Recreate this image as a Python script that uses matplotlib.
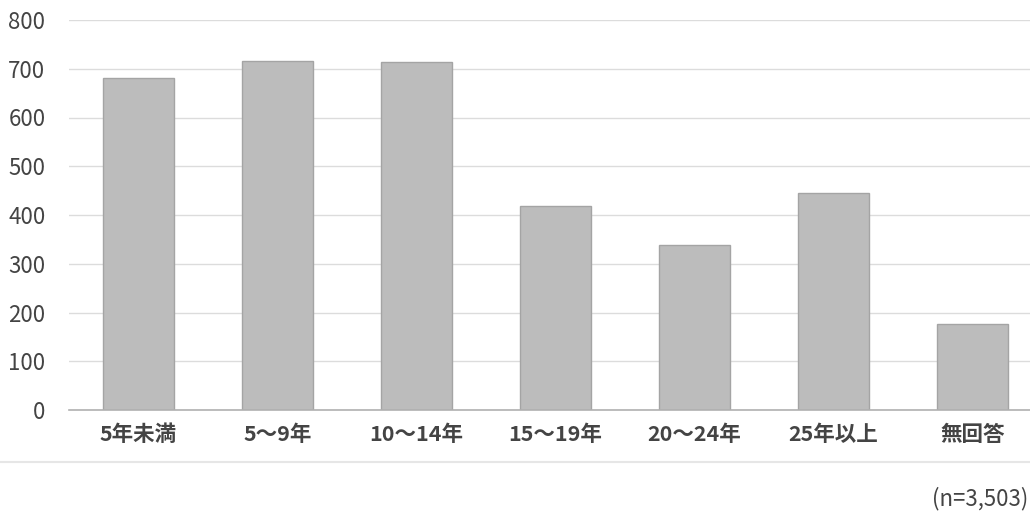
import matplotlib
matplotlib.use("Agg")
import matplotlib.pyplot as plt
from matplotlib.lines import Line2D

plt.rcParams['font.family'] = ['Noto Sans CJK JP', 'DejaVu Sans']

categories = ["5年未満", "5～9年", "10～14年", "15～19年", "20～24年", "25年以上", "無回答"]
values = [682, 716, 713, 418, 338, 446, 176]
yticks = [0, 100, 200, 300, 400, 500, 600, 700, 800]
note = "(n=3,503)"

W, H = 1030, 521
fig = plt.figure(figsize=(W / 100, H / 100), dpi=100)
fig.patch.set_facecolor("white")

left_px, right_px = 69, 69 + 7 * 139
top_px, bottom_px = 20, 410
ax = fig.add_axes([left_px / W, (H - bottom_px) / H,
                   (right_px - left_px) / W, (bottom_px - top_px) / H])
ax.set_facecolor("white")

x = list(range(len(categories)))
ax.bar(x, values, width=0.51, color="#bcbcbc", edgecolor="#a4a4a4",
       linewidth=1.0, zorder=3)

ax.set_xlim(-0.5, len(categories) - 0.5)
ax.set_ylim(0, 800)
ax.set_yticks(yticks)
ax.set_yticklabels([str(v) for v in yticks])
ax.set_xticks(x)
ax.set_xticklabels(categories)

ax.grid(axis="y", color="#dcdcdc", linewidth=1.0, zorder=0)
ax.set_axisbelow(True)
for s in ["top", "right", "left"]:
    ax.spines[s].set_visible(False)
ax.spines["bottom"].set_color("#b0b0b0")
ax.spines["bottom"].set_linewidth(1.2)
ax.spines["bottom"].set_zorder(4)

ax.tick_params(axis="y", length=0, pad=17, labelsize=16, labelcolor="#444444")
ax.tick_params(axis="x", length=0, pad=10, labelsize=15.5, labelcolor="#444444")
for lbl in ax.get_xticklabels():
    lbl.set_fontweight("bold")

fig.add_artist(Line2D([0, 1], [(H - 462) / H, (H - 462) / H],
                      color="#e6e6e6", linewidth=1.5, transform=fig.transFigure))

fig.text(1028 / W, (H - 499) / H, note, ha="right", va="center",
         fontsize=16, color="#444444")

fig.savefig("out.png", dpi=100, facecolor="white")
